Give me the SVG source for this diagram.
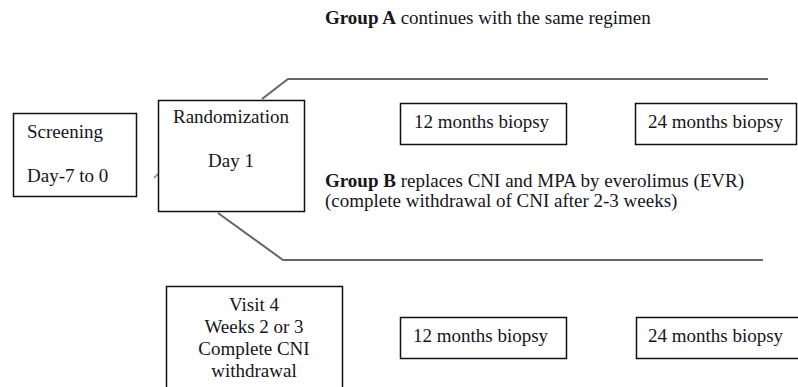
<svg xmlns="http://www.w3.org/2000/svg" width="798" height="387" viewBox="0 0 798 387">
<style>
.box{fill:#fff;stroke:#111;stroke-width:1.5}
.t{font-family:"Liberation Serif","Times New Roman",serif;font-size:19px;fill:#151520}
.b{font-weight:bold}
.c{text-anchor:middle}
.ln{fill:none;stroke:#666;stroke-width:2}
</style>
<rect width="798" height="387" fill="#fff"/>
<g id="connectors">
<polyline class="ln" points="262,99 288,79 768,79"/>
<polyline class="ln" points="218,213 283,260 763,260"/>
<line x1="154" y1="178" x2="158" y2="174" stroke="#777" stroke-width="1.2"/>
</g>
<g id="groupA-label"><text class="t" x="325" y="24"><tspan class="b">Group A</tspan> continues with the same regimen</text></g>
<g id="screening">
<rect class="box" x="13.5" y="113.5" width="123" height="83"/>
<text class="t" x="27" y="138">Screening</text>
<text class="t" x="27" y="182">Day-7 to 0</text>
</g>
<g id="randomization">
<rect class="box" x="158.5" y="100.5" width="146" height="111"/>
<text class="t" x="173" y="123">Randomization</text>
<text class="t" x="208" y="167">Day 1</text>
</g>
<g id="a12">
<rect class="box" x="400.5" y="103.5" width="166" height="41"/>
<text class="t" x="414" y="128">12 months biopsy</text>
</g>
<g id="a24">
<rect class="box" x="635.5" y="103.5" width="161" height="41"/>
<text class="t" x="648" y="128">24 months biopsy</text>
</g>
<g id="groupB-label">
<text class="t" x="325" y="187"><tspan class="b">Group B</tspan> replaces CNI and MPA by everolimus (EVR)</text>
<text class="t" x="325" y="207">(complete withdrawal of CNI after 2-3 weeks)</text>
</g>
<g id="visit4">
<rect class="box" x="166.5" y="286.5" width="176" height="110"/>
<text class="t c" x="254" y="311">Visit 4</text>
<text class="t c" x="254" y="333">Weeks 2 or 3</text>
<text class="t c" x="254" y="355">Complete CNI</text>
<text class="t c" x="254" y="377">withdrawal</text>
</g>
<g id="b12">
<rect class="box" x="400.5" y="317.5" width="166" height="41"/>
<text class="t" x="413" y="342">12 months biopsy</text>
</g>
<g id="b24">
<rect class="box" x="636.5" y="317.5" width="170" height="41"/>
<text class="t" x="648" y="342">24 months biopsy</text>
</g>
</svg>
